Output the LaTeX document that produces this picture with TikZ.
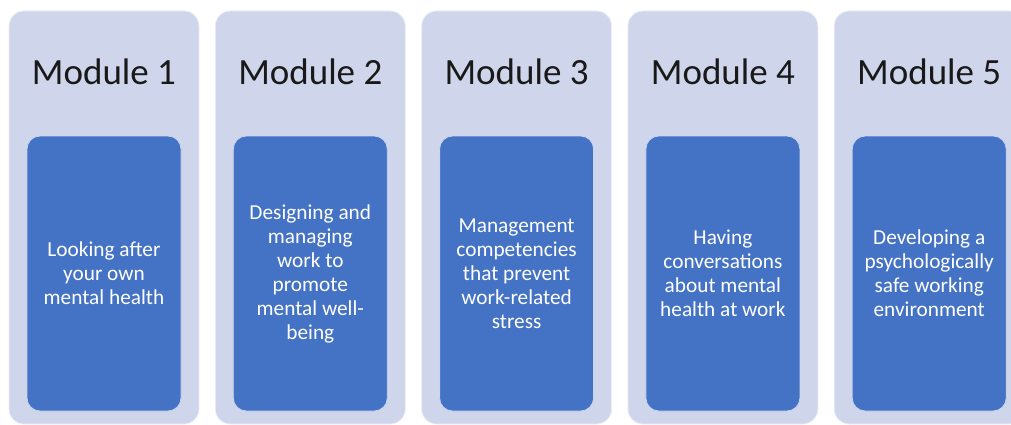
\documentclass[tikz,border=0pt]{standalone}
\usepackage{fontspec}
\setmainfont{Carlito}
\definecolor{outerc}{HTML}{CFD5EA}
\definecolor{innerc}{HTML}{4472C4}
\begin{document}
\begin{tikzpicture}[x=1pt,y=-1pt,
  outerbox/.style={fill=outerc,draw=white!60!outerc,line width=0.8pt,rounded corners=15pt},
  innerbox/.style={fill=innerc,draw=white!70!innerc,line width=0.8pt,rounded corners=13pt},
  headtext/.style={font=\fontsize{37}{40}\selectfont,text=black!90,anchor=center},
  bodytext/.style={font=\fontsize{21.3}{24}\selectfont,text=white,align=center,anchor=center}]
\useasboundingbox (0,0) rectangle (1011,425);
\begin{scope}
\clip (0,0) rectangle (1011,425);
\foreach \i/\t in {0/{Looking after\\your own\\mental health},
                   1/{Designing and\\managing\\work to\\promote\\mental well-\\being},
                   2/{Management\\competencies\\that prevent\\work-related\\stress},
                   3/{Having\\conversations\\about mental\\health at work},
                   4/{Developing a\\psychologically\\safe working\\environment}}{
  \pgfmathsetmacro{\xo}{9+206.3*\i}
  \path[outerbox] (\xo,11) rectangle ++(190,413);
  \path[innerbox] (\xo+18,136) rectangle ++(154,275);
  \node[headtext] (h\i) at (\xo+95,72) {Module \the\numexpr\i+1\relax};
  \node[bodytext] (b\i) at (\xo+95,273.5) {\t};
}
\end{scope}
\end{tikzpicture}
\end{document}
